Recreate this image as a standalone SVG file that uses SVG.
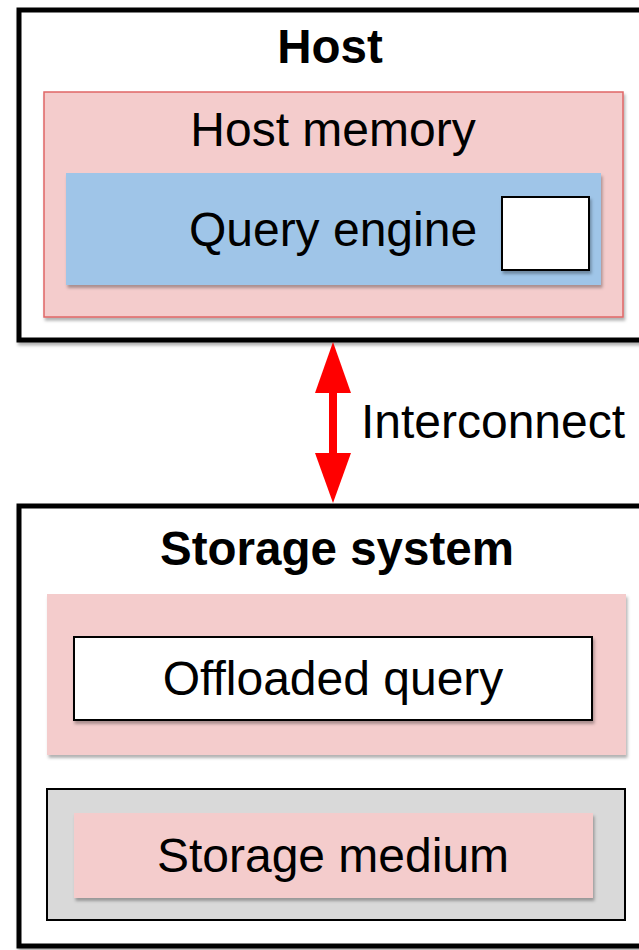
<svg xmlns="http://www.w3.org/2000/svg" width="639" height="950" viewBox="0 0 639 950">
  <style>
    .frame { fill: #ffffff; stroke: #000000; stroke-width: 5; }
    .pink { fill: #f4cccc; }
    .blue { fill: #9fc5e8; }
    .grey { fill: #d9d9d9; stroke: #000000; stroke-width: 2; }
    .white { fill: #ffffff; stroke: #000000; stroke-width: 2; }
    .title { font-family: "Liberation Sans", Arial, sans-serif; font-weight: bold; font-size: 47.5px; fill: #000000; text-anchor: middle; }
    .label { font-family: "Liberation Sans", Arial, sans-serif; font-size: 48px; fill: #000000; text-anchor: middle; }
  </style>
  <defs>
    <filter id="shadow" x="-5%" y="-5%" width="115%" height="120%">
      <feDropShadow dx="1.5" dy="3" stdDeviation="1.8" flood-color="#000000" flood-opacity="0.3"/>
    </filter>
  </defs>

  <!-- Host side -->
  <g id="host">
    <rect class="frame" x="19" y="10" width="650" height="330" filter="url(#shadow)"/>
    <text class="title" x="330" y="63">Host</text>
  </g>
  <g id="host-memory">
    <rect class="pink" x="44" y="92" width="579" height="225" stroke="#e06666" stroke-width="1.5" filter="url(#shadow)"/>
    <text class="label" x="333" y="146">Host memory</text>
  </g>
  <g id="query-engine">
    <rect class="blue" x="66" y="173" width="535" height="112" filter="url(#shadow)"/>
    <text class="label" x="333" y="246">Query engine</text>
    <rect class="white" x="502" y="197" width="87" height="73" filter="url(#shadow)"/>
  </g>

  <!-- Storage side -->
  <g id="storage-system">
    <rect class="frame" x="19" y="506" width="650" height="440" filter="url(#shadow)"/>
    <text class="title" x="337" y="565">Storage system</text>
  </g>
  <g id="offload-area">
    <rect class="pink" x="47" y="594" width="579" height="161" filter="url(#shadow)"/>
  </g>
  <g id="offloaded-query">
    <rect class="white" x="74" y="637" width="518" height="83" filter="url(#shadow)"/>
    <text class="label" x="333" y="695">Offloaded query</text>
  </g>
  <g id="storage-device">
    <rect class="grey" x="47" y="789" width="578" height="131"/>
  </g>
  <g id="storage-medium">
    <rect class="pink" x="74" y="813" width="519" height="85" filter="url(#shadow)"/>
    <text class="label" x="333" y="872">Storage medium</text>
  </g>

  <!-- Connectors -->
  <g id="connectors">
    <rect x="329" y="390" width="8" height="66" fill="#ff0000"/>
    <polygon points="333,342 315,393 351,393" fill="#ff0000"/>
    <polygon points="333,503 315,453 351,453" fill="#ff0000"/>
    <text class="label" x="493" y="438">Interconnect</text>
  </g>
</svg>
